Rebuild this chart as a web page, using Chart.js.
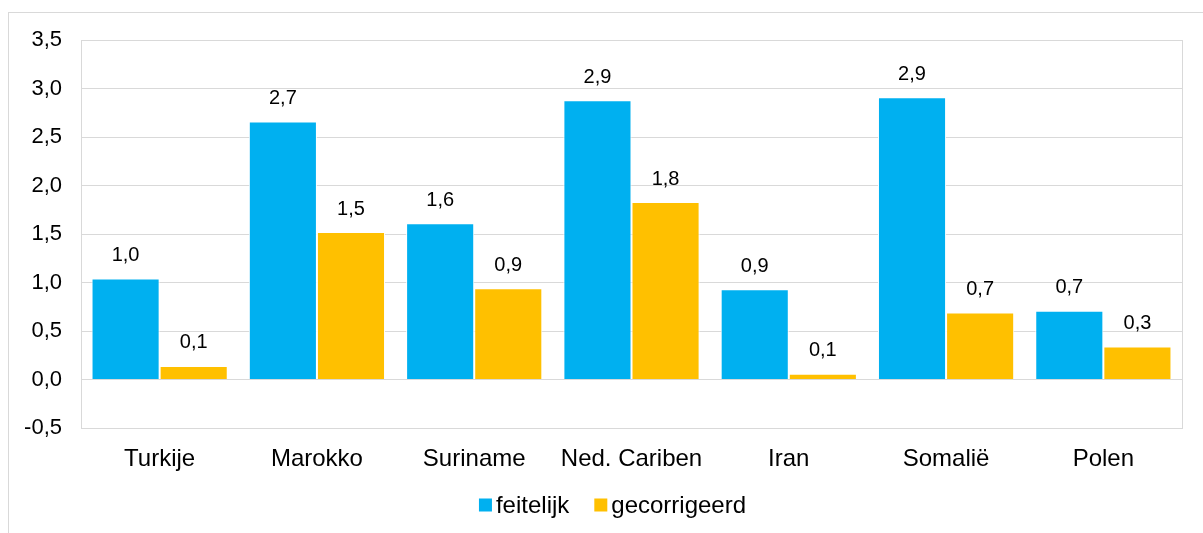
<html>
    <head>
        <meta charset="utf-8">
        <script src="https://cdn.jsdelivr.net/npm/chart.js@4.4.0/dist/chart.umd.min.js"></script>
        <style>
            body {
                margin: 0px;
                background: #fff;
            }

            #frame {
                position: absolute;
                left: 8px;
                top: 12px;
                width: 1300px;
                height: 600px;
                border: 1px solid #d9d9d9;
            }

            #wrap {
                position: absolute;
                left: 0px;
                top: 0px;
                width: 1203px;
                height: 533px;
            }
        </style>
    </head>

    <body>
        <div id="frame"></div>
        <div id="wrap">
            <canvas id="chart"></canvas>
        </div>
        <script>
            const categories = ['Turkije', 'Marokko', 'Suriname', 'Ned. Cariben', 'Iran', 'Somalië', 'Polen']
            const feitelijk = [1.04, 2.66, 1.61, 2.88, 0.93, 2.91, 0.71]
            const gecorrigeerd = [0.14, 1.52, 0.94, 1.83, 0.06, 0.69, 0.34]
            const seriesNames = ['feitelijk', 'gecorrigeerd']

            const FONT = '"Liberation Sans", Arial, sans-serif'
            const fmt = (v) => v.toFixed(1).replace('.', ',')

            // value labels above the bars, box round the plot area, legend below
            const extras = {
                id: 'extras',
                afterDatasetsDraw(chart) {
                    const ctx = chart.ctx
                    const area = chart.chartArea
                    ctx.save()
                    ctx.strokeStyle = '#d9d9d9'
                    ctx.lineWidth = 1
                    ctx.strokeRect(Math.round(area.left) + 0.5, Math.round(area.top) + 0.5,
                        Math.round(area.right - area.left), Math.round(area.bottom - area.top))

                    ctx.font = '20px ' + FONT
                    ctx.fillStyle = '#000'
                    ctx.textAlign = 'center'
                    ctx.textBaseline = 'middle'
                    chart.data.datasets.forEach((ds, i) => {
                        chart.getDatasetMeta(i).data.forEach((bar, j) => {
                            ctx.fillText(fmt(ds.data[j]), bar.x, bar.y - 23)
                        })
                    })

                    // legend
                    ctx.font = '24px ' + FONT
                    ctx.textAlign = 'left'
                    const box = 13, gap = 4, itemGap = 25, cy = 506
                    const widths = chart.data.datasets.map((ds) => box + gap + ctx.measureText(ds.label).width)
                    const total = widths.reduce((a, b) => a + b, 0) + itemGap * (widths.length - 1)
                    let x = chart.width / 2 + 11 - total / 2
                    chart.data.datasets.forEach((ds, i) => {
                        ctx.fillStyle = ds.backgroundColor
                        ctx.fillRect(x, cy - box / 2 - 1, box, box)
                        ctx.fillStyle = '#000'
                        ctx.fillText(ds.label, x + box + gap, cy)
                        x += widths[i] + itemGap
                    })
                    ctx.restore()
                },
            }

            new Chart(document.getElementById('chart'), {
                type: 'bar',
                data: {
                    labels: categories,
                    datasets: [
                        {
                            label: seriesNames[0],
                            data: feitelijk,
                            backgroundColor: '#00b0f0',
                            borderColor: '#ffffff',
                            borderWidth: 1,
                            categoryPercentage: 0.866,
                            barPercentage: 1.0,
                        },
                        {
                            label: seriesNames[1],
                            data: gecorrigeerd,
                            backgroundColor: '#ffc000',
                            borderColor: '#ffffff',
                            borderWidth: 1,
                            categoryPercentage: 0.866,
                            barPercentage: 1.0,
                        },
                    ],
                },
                plugins: [extras],
                options: {
                    responsive: true,
                    maintainAspectRatio: false,
                    animation: false,
                    layout: {
                        padding: { left: 0, right: 21, top: 40, bottom: 0 },
                    },
                    plugins: {
                        tooltip: { enabled: false },
                        legend: { display: false },
                    },
                    scales: {
                        x: {
                            grid: { display: false },
                            border: { color: '#d9d9d9' },
                            ticks: {
                                color: '#000',
                                padding: 9,
                                font: { family: FONT, size: 24 },
                            },
                            afterFit: (scale) => {
                                scale.height = 105
                            },
                        },
                        y: {
                            min: -0.5,
                            max: 3.5,
                            grid: { color: '#d9d9d9', drawTicks: false },
                            border: { color: '#d9d9d9' },
                            ticks: {
                                stepSize: 0.5,
                                color: '#000',
                                padding: 19,
                                font: { family: FONT, size: 22 },
                                callback: (v) => fmt(v),
                            },
                            afterFit: (scale) => {
                                scale.width = 81
                            },
                        },
                    },
                },
            })
        </script>
    </body>
</html>
